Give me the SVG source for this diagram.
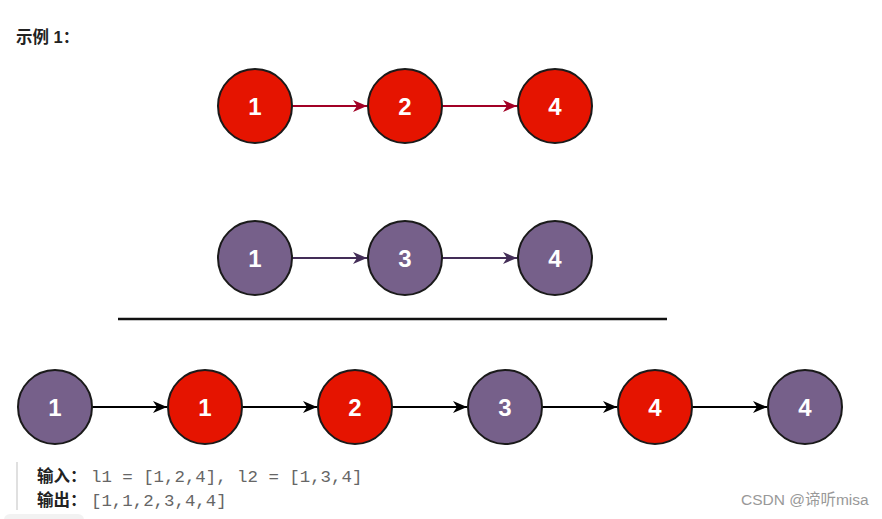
<svg xmlns="http://www.w3.org/2000/svg" width="882" height="519" viewBox="0 0 882 519">
<style>
.red{fill:#e51400;stroke:#1a1a1a;stroke-width:2}
.pur{fill:#76608a;stroke:#1a1a1a;stroke-width:2}
.num{font-family:"Liberation Sans",Arial,sans-serif;font-weight:bold;font-size:24px;fill:#fff;text-anchor:middle}
.e{fill:none;stroke-width:2}
.cn{font-family:"Liberation Sans","Noto Sans CJK SC",sans-serif;font-weight:bold;font-size:16.5px;fill:#222}
.mono{font-family:"Liberation Mono",monospace;font-size:17.4px;fill:#666}
</style>
<defs>
<marker id="aR" viewBox="0 0 14 12" refX="14" refY="6" markerWidth="14" markerHeight="12" markerUnits="userSpaceOnUse" orient="auto"><path d="M0,0 L14,6 L0,12 L4,6 Z" fill="#a20025"/></marker>
<marker id="aP" viewBox="0 0 14 12" refX="14" refY="6" markerWidth="14" markerHeight="12" markerUnits="userSpaceOnUse" orient="auto"><path d="M0,0 L14,6 L0,12 L4,6 Z" fill="#432d57"/></marker>
<marker id="aK" viewBox="0 0 14 12" refX="14" refY="6" markerWidth="14" markerHeight="12" markerUnits="userSpaceOnUse" orient="auto"><path d="M0,0 L14,6 L0,12 L4,6 Z" fill="#000"/></marker>
</defs>
<rect width="882" height="519" fill="#fff"/>
<text class="cn" x="16" y="43">示例 1：</text>

<g id="connectors">
<line class="e" stroke="#a20025" x1="292" y1="106" x2="367" y2="106" marker-end="url(#aR)"/>
<line class="e" stroke="#a20025" x1="442" y1="106" x2="517" y2="106" marker-end="url(#aR)"/>
<line class="e" stroke="#432d57" x1="292" y1="258" x2="367" y2="258" marker-end="url(#aP)"/>
<line class="e" stroke="#432d57" x1="442" y1="258" x2="517" y2="258" marker-end="url(#aP)"/>
<line class="e" stroke="#000" x1="92" y1="407" x2="167" y2="407" marker-end="url(#aK)"/>
<line class="e" stroke="#000" x1="242" y1="407" x2="317" y2="407" marker-end="url(#aK)"/>
<line class="e" stroke="#000" x1="392" y1="407" x2="467" y2="407" marker-end="url(#aK)"/>
<line class="e" stroke="#000" x1="542" y1="407" x2="617" y2="407" marker-end="url(#aK)"/>
<line class="e" stroke="#000" x1="692" y1="407" x2="767" y2="407" marker-end="url(#aK)"/>
</g>

<g id="a1"><circle class="red" cx="255" cy="106" r="37"/><text class="num" x="255" y="115">1</text></g>
<g id="a2"><circle class="red" cx="405" cy="106" r="37"/><text class="num" x="405" y="115">2</text></g>
<g id="a4"><circle class="red" cx="555" cy="106" r="37"/><text class="num" x="555" y="115">4</text></g>

<g id="b1"><circle class="pur" cx="255" cy="258" r="37"/><text class="num" x="255" y="267">1</text></g>
<g id="b3"><circle class="pur" cx="405" cy="258" r="37"/><text class="num" x="405" y="267">3</text></g>
<g id="b4"><circle class="pur" cx="555" cy="258" r="37"/><text class="num" x="555" y="267">4</text></g>

<line x1="118" y1="319" x2="667" y2="319" stroke="#111" stroke-width="2.5"/>

<g id="c1"><circle class="pur" cx="55" cy="407" r="37"/><text class="num" x="55" y="416">1</text></g>
<g id="c2"><circle class="red" cx="205" cy="407" r="37"/><text class="num" x="205" y="416">1</text></g>
<g id="c3"><circle class="red" cx="355" cy="407" r="37"/><text class="num" x="355" y="416">2</text></g>
<g id="c4"><circle class="pur" cx="505" cy="407" r="37"/><text class="num" x="505" y="416">3</text></g>
<g id="c5"><circle class="red" cx="655" cy="407" r="37"/><text class="num" x="655" y="416">4</text></g>
<g id="c6"><circle class="pur" cx="805" cy="407" r="37"/><text class="num" x="805" y="416">4</text></g>

<rect x="16" y="462" width="2" height="48" fill="#e0e0e0"/>
<text class="cn" x="37" y="482">输入：</text>
<text class="mono" x="91" y="482">l1 = [1,2,4], l2 = [1,3,4]</text>
<text class="cn" x="37" y="506">输出：</text>
<text class="mono" x="91" y="506">[1,1,2,3,4,4]</text>
<rect x="4" y="514" width="80" height="12" rx="6" fill="#f2f2f2"/>
<text x="741" y="505" font-family="'Liberation Sans','Noto Sans CJK SC',sans-serif" font-size="15.5" fill="#999">CSDN @谛听misa</text>
</svg>
